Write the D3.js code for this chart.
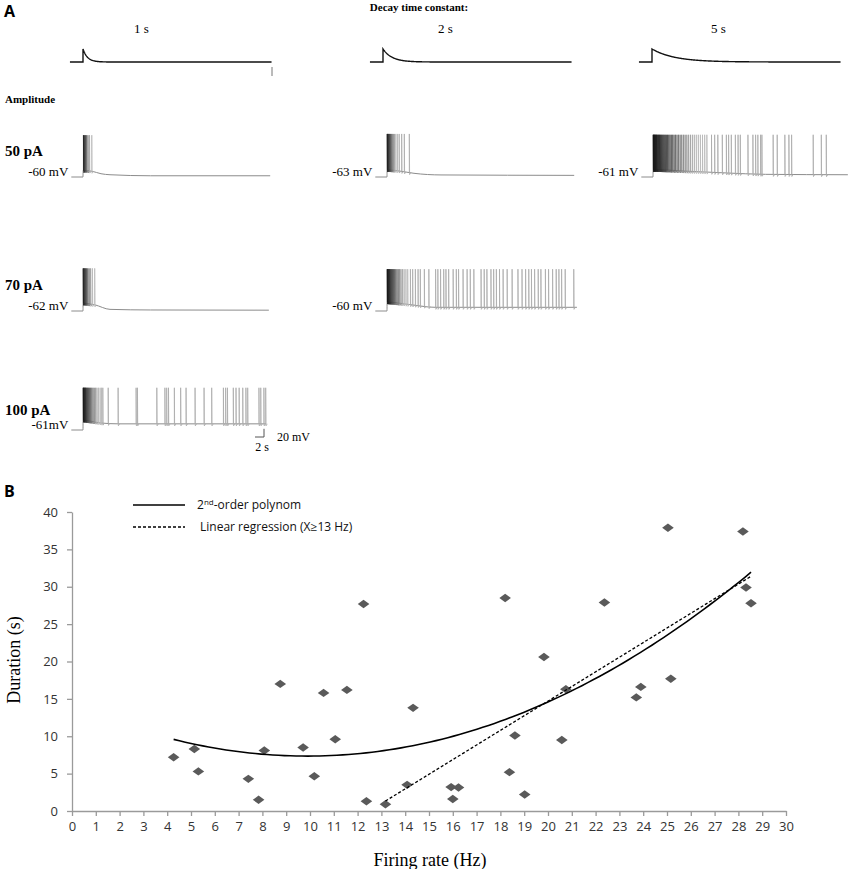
<!DOCTYPE html>
<html>
<head>
<meta charset="utf-8">
<script src="https://cdn.jsdelivr.net/npm/d3@7"></script>
<style>
  body { margin: 0; background: #fff; }
  .serif { font-family: "Liberation Serif", "DejaVu Serif", serif; }
  .sans { font-family: "Open Sans", "Liberation Sans", sans-serif; }
</style>
</head>
<body>
<div id="fig"></div>
<script>
/** ---------- Panel A data ---------- */
var decayTaus = [1, 2, 5];                       // stimulus decay time constant (s)
var tauLabels = ["1 s", "2 s", "5 s"];
var ampLabels = ["50 pA", "70 pA", "100 pA"];
var stimPre = 2.9, stimEnd = 42;                 // s
var preOnset = 2.6;                              // s recorded before stimulus
var spikePeakMV = 42;                            // absolute spike peak (mV)

var restMV    = [-60, -63, -61, -62, -60, -61];
var restText  = ["-60 mV", "-63 mV", "-61 mV", "-62 mV", "-60 mV", "-61mV"];
var recEnd    = [41.6, 41.6, 43.3, 41.3, 42.2, 40.7];   // s after onset
var burstEnd  = [2.0, 2.4, 12.0, 2.6, 4.8, 4.2];        // s

// spike times (s after stimulus onset)
var spikes50pA_1s = [0.1, 0.3, 0.55, 0.8, 1.1, 1.45, 1.95];
var spikes50pA_2s = [0.05, 0.15, 0.28, 0.42, 0.58, 0.75, 0.95, 1.15, 1.4, 1.65, 1.95, 2.3,
                     2.7, 3.26, 3.85, 4.96];
var spikes50pA_5s = [0.05, 0.15, 0.26, 0.38, 0.5, 0.63, 0.77, 0.92, 1.08, 1.25, 1.43, 1.62,
                     1.82, 2.03, 2.25, 2.48, 2.72, 2.97, 3.23, 3.5, 3.78, 4.07, 4.37, 4.68,
                     5.0, 5.33, 5.67, 6.02, 6.38, 6.75, 7.13, 7.52, 7.92, 8.33, 8.75, 9.18,
                     9.62, 10.07, 10.53, 11.0, 11.48, 11.97,
                     13.0, 13.7, 14.4, 15.4, 16.3, 16.8, 17.4, 18.3, 18.9, 19.4, 21.1, 22.2,
                     22.8, 23.3, 23.9, 24.2, 26.7, 27.6, 29.3, 30.2, 30.8, 35.6, 37.4, 38.5];
var spikes70pA_1s = [0.05, 0.2, 0.38, 0.58, 0.8, 1.05, 1.35, 1.7, 2.1, 2.6];
var spikes70pA_2s = [0.05, 0.15, 0.27, 0.4, 0.55, 0.7, 0.87, 1.05, 1.25, 1.47, 1.7, 1.95,
                     2.22, 2.5, 2.8, 3.1, 3.45, 3.8, 4.2, 4.6,
                     5.2, 5.7, 6.3, 6.9, 7.4, 8.3, 9.3, 10.8, 11.3, 11.9, 12.6, 13.1, 13.7,
                     14.7, 15.4, 15.9, 16.9, 17.8, 18.5, 19.3, 20.9, 21.6, 22.2, 23.1, 23.7,
                     24.3, 25.0, 25.8, 26.7, 27.8, 29.1, 30.0, 30.8, 31.5, 32.1, 32.8, 33.6,
                     34.2, 35.2, 35.9, 36.8, 37.6, 38.2, 38.8, 39.6, 41.5];
var spikes100pA_1s = [0.05, 0.15, 0.27, 0.4, 0.55, 0.7, 0.87, 1.05, 1.25, 1.47, 1.7, 1.95,
                      2.22, 2.5, 2.8, 3.1, 3.45, 3.8, 4.1, 4.4,
                      5.6, 7.8, 11.8, 12.1, 16.4, 18.2, 18.6, 19.0, 20.3, 21.7, 22.9, 24.9,
                      26.9, 28.6, 31.2, 31.7, 32.1, 33.4, 34.0, 34.7, 35.5, 36.2, 36.6,
                      39.1, 39.5, 40.2, 40.6];

// depolarisation above rest [s, mV]
var dep50pA_1s  = [[0, 16], [2, 14], [4, 8], [6, 5.5], [15, 3], [41.6, 3]];
var dep50pA_2s  = [[0, 18], [2.5, 15], [6, 9], [12, 5], [41.6, 4]];
var dep50pA_5s  = [[0, 18], [8, 14], [16, 10], [25, 6.5], [43.3, 5.5]];
var dep70pA_1s  = [[0, 19], [2.6, 15], [6, 4], [15, 2.5], [41.3, 2]];
var dep70pA_2s  = [[0, 22], [4.8, 16], [10.7, 9], [42.2, 9]];
var dep100pA_1s = [[0, 24], [4, 17], [8, 15], [40.7, 15]];

/** ---------- Panel B data ---------- */
var firingRate = [4.27, 5.14, 5.31, 7.41, 7.84, 8.08, 8.75, 9.71, 10.18, 10.57, 11.06, 11.55,
                  12.25, 12.37, 13.17, 14.08, 14.33, 15.93, 16.24, 16.0, 18.2, 18.38, 18.61,
                  19.02, 19.83, 20.58, 20.75, 22.37, 23.71, 23.9, 25.04, 25.16, 28.19, 28.32, 28.53];
var duration   = [7.2, 8.3, 5.3, 4.3, 1.5, 8.1, 17.0, 8.5, 4.65, 15.8, 9.6, 16.2,
                  27.7, 1.3, 0.9, 3.5, 13.8, 3.2, 3.15, 1.6, 28.5, 5.2, 10.1,
                  2.2, 20.6, 9.5, 16.3, 27.9, 15.2, 16.6, 37.9, 17.7, 37.4, 29.9, 27.8];
var regressionMinX = 13;
var xTicks = d3.range(0, 31, 1);
var yTicks = [0, 5, 10, 15, 20, 25, 30, 35, 40];

/** ---------- figure ---------- */
var W = 850, H = 869;
var svg = d3.select("#fig").append("svg")
    .attr("width", W).attr("height", H);

var PX_PER_S = 4.5, PX_PER_MV = 0.41;
var colOnset = [83, 387, 653];
var stimOnset = [83, 383, 652];
var rowRest = [177, 311, 430];
var ampLabelY = [156, 290, 415];

svg.append("text").attr("class", "sans").attr("x", 4).attr("y", 17)
    .style("font-weight", "bold").style("font-size", "16px").text("A");
svg.append("text").attr("class", "serif").attr("x", 419).attr("y", 11)
    .attr("text-anchor", "middle").style("font-weight", "bold").style("font-size", "11px")
    .text("Decay time constant:");
svg.append("text").attr("class", "serif").attr("x", 5).attr("y", 103)
    .style("font-weight", "bold").style("font-size", "11px").text("Amplitude");

/** stimulus waveforms */
decayTaus.forEach(function(tau, i) {
  var x = d3.scaleLinear().domain([0, 1]).range([stimOnset[i], stimOnset[i] + PX_PER_S]);
  var y = d3.scaleLinear().domain([0, 1]).range([62, 49]);
  var pts = [[-stimPre, 0], [0, 0], [0.001, 1]];
  d3.range(0.1, stimEnd, 0.1).forEach(function(t) { pts.push([t, Math.exp(-t / tau)]); });
  svg.append("path")
      .attr("d", d3.line().x(function(d) { return x(d[0]); }).y(function(d) { return y(d[1]); })(pts))
      .attr("fill", "none").attr("stroke", "#111").attr("stroke-width", 1.4);
  svg.append("text").attr("class", "serif")
      .attr("x", x(stimEnd / 2) - 36 + i * 4).attr("y", 33)
      .attr("text-anchor", "middle").style("font-size", "13px").text(tauLabels[i]);
});
svg.append("line").attr("x1", 272).attr("x2", 272).attr("y1", 67).attr("y2", 76)
    .attr("stroke", "#777").attr("stroke-width", 1);

/** membrane potential traces */
var traces = [
  {row: 0, col: 0, spikes: spikes50pA_1s, dep: dep50pA_1s},
  {row: 0, col: 1, spikes: spikes50pA_2s, dep: dep50pA_2s},
  {row: 0, col: 2, spikes: spikes50pA_5s, dep: dep50pA_5s},
  {row: 1, col: 0, spikes: spikes70pA_1s, dep: dep70pA_1s},
  {row: 1, col: 1, spikes: spikes70pA_2s, dep: dep70pA_2s},
  {row: 2, col: 0, spikes: spikes100pA_1s, dep: dep100pA_1s}
];

ampLabels.forEach(function(lbl, r) {
  svg.append("text").attr("class", "serif").attr("x", 5).attr("y", ampLabelY[r])
      .style("font-weight", "bold").style("font-size", "15px").text(lbl);
});

traces.forEach(function(tr, i) {
  var rest = restMV[i];
  var onset = colOnset[tr.col];
  var x = d3.scaleLinear().domain([0, 1]).range([onset, onset + PX_PER_S]);
  var y = d3.scaleLinear().domain([rest, rest + 1]).range([rowRest[tr.row], rowRest[tr.row] - PX_PER_MV]);
  var env = d3.scaleLinear().domain(tr.dep.map(function(d) { return d[0]; }))
      .range(tr.dep.map(function(d) { return d[1]; })).clamp(true);
  var g = svg.append("g");

  var pts = [[-preOnset, rest], [0, rest]].concat(
      tr.dep.map(function(d, k) { return [k === 0 ? 0.02 : d[0], rest + d[1]]; }));
  pts[pts.length - 1][0] = recEnd[i];
  g.append("path")
      .attr("d", d3.line().curve(d3.curveMonotoneX)
        .x(function(d) { return x(d[0]); }).y(function(d) { return y(d[1]); })(pts))
      .attr("fill", "none").attr("stroke", "#8c8c8c").attr("stroke-width", 1);

  var shade = d3.scaleLinear().domain([0, burstEnd[i] * 0.8]).range(["#111", "#b8b8b8"]).clamp(true);
  g.selectAll("path.spike")
    .data(tr.spikes)
    .enter()
    .append("path")
      .attr("class", "spike")
      .attr("d", function(t) {
        var b = rest + env(t);
        return "M" + x(t) + "," + y(b) + "L" + x(t) + "," + y(spikePeakMV) +
               "L" + x(t + 0.06) + "," + y(b - 5) + "L" + x(t + 0.35) + "," + y(b);
      })
      .attr("fill", "none")
      .attr("stroke", function(t) { return t <= burstEnd[i] ? shade(t) : "#ababab"; })
      .attr("stroke-width", 0.8);

  svg.append("text").attr("class", "serif")
      .attr("x", x(-preOnset) - 3).attr("y", rowRest[tr.row] - 1)
      .attr("text-anchor", "end").style("font-size", "13px").text(restText[i]);
});

/** scale bar */
var sbX = 264, sbY = 437;
svg.append("path")
    .attr("d", "M" + (sbX - 2 * PX_PER_S) + "," + sbY + "H" + sbX + "V" + (sbY - 20 * PX_PER_MV))
    .attr("fill", "none").attr("stroke", "#555").attr("stroke-width", 1);
svg.append("text").attr("class", "serif").attr("x", 277).attr("y", 441)
    .style("font-size", "12px").text("20 mV");
svg.append("text").attr("class", "serif").attr("x", 262).attr("y", 451)
    .attr("text-anchor", "middle").style("font-size", "12px").text("2 s");

/** ---------- Panel B ---------- */
svg.append("text").attr("class", "sans").attr("x", 4).attr("y", 497)
    .style("font-weight", "bold").style("font-size", "16px").text("B");

var bx = d3.scaleLinear().domain([0, 30]).range([72, 786]);
var by = d3.scaleLinear().domain([0, 40]).range([811, 512]);

var xAxis = svg.append("g").attr("transform", "translate(0,811)")
    .call(d3.axisBottom(bx).tickValues(xTicks).tickSize(5).tickSizeOuter(0).tickPadding(6));
var yAxis = svg.append("g").attr("transform", "translate(72,0)")
    .call(d3.axisLeft(by).tickValues(yTicks).tickSize(5).tickSizeOuter(0).tickPadding(9));
[xAxis, yAxis].forEach(function(a) {
  a.selectAll("path, line").attr("stroke", "#9a9a9a").attr("stroke-width", 1.3);
  a.selectAll("text").attr("class", "sans").style("font-size", "13px").attr("fill", "#333");
});

svg.append("text").attr("class", "serif").attr("x", 430).attr("y", 866)
    .attr("text-anchor", "middle").style("font-size", "18px").text("Firing rate (Hz)");
svg.append("text").attr("class", "serif")
    .attr("transform", "translate(20,660) rotate(-90)")
    .attr("text-anchor", "middle").style("font-size", "18px").text("Duration (s)");

/** least-squares polynomial fit */
function polyFit(xs, ys, deg) {
  var n = deg + 1, A = [], b = [];
  for (var i = 0; i < n; i++) {
    A.push([]);
    for (var j = 0; j < n; j++) A[i].push(d3.sum(xs, function(v) { return Math.pow(v, i + j); }));
    b.push(d3.sum(xs, function(v, k) { return Math.pow(v, i) * ys[k]; }));
  }
  for (var c = 0; c < n; c++) {
    for (var r = c + 1; r < n; r++) {
      var f = A[r][c] / A[c][c];
      for (var k = c; k < n; k++) A[r][k] -= f * A[c][k];
      b[r] -= f * b[c];
    }
  }
  var coef = [];
  for (var r2 = n - 1; r2 >= 0; r2--) {
    var s = b[r2];
    for (var k2 = r2 + 1; k2 < n; k2++) s -= A[r2][k2] * coef[k2];
    coef[r2] = s / A[r2][r2];
  }
  return coef;
}
function evalPoly(c, v) { return c.reduce(function(s, a, i) { return s + a * Math.pow(v, i); }, 0); }

var quad = polyFit(firingRate, duration, 2);
var hiX = [], hiY = [];
firingRate.forEach(function(v, i) { if (v >= regressionMinX) { hiX.push(v); hiY.push(duration[i]); } });
var lin = polyFit(hiX, hiY, 1);

var fitLine = d3.line().x(function(d) { return bx(d[0]); }).y(function(d) { return by(d[1]); });
var quadPts = d3.range(100).map(function(k) {
  var v = d3.min(firingRate) + k * (d3.max(firingRate) - d3.min(firingRate)) / 99;
  return [v, evalPoly(quad, v)];
});
var linPts = [d3.min(hiX), d3.max(hiX)].map(function(v) { return [v, evalPoly(lin, v)]; });

/** markers */
svg.selectAll("path.pt")
  .data(firingRate)
  .enter()
  .append("path")
    .attr("class", "pt")
    .attr("transform", function(d, i) { return "translate(" + bx(d) + "," + by(duration[i]) + ")"; })
    .attr("d", "M0,-4.2L5.8,0L0,4.2L-5.8,0Z")
    .attr("fill", "#5a5a5a");

svg.append("path").attr("d", fitLine(quadPts))
    .attr("fill", "none").attr("stroke", "#000").attr("stroke-width", 1.6);
svg.append("path").attr("d", fitLine(linPts))
    .attr("fill", "none").attr("stroke", "#000").attr("stroke-width", 1.3)
    .attr("stroke-dasharray", "3,2");

/** legend */
svg.append("line").attr("x1", 133).attr("x2", 185).attr("y1", 505).attr("y2", 505)
    .attr("stroke", "#000").attr("stroke-width", 1.6);
svg.append("line").attr("x1", 133).attr("x2", 185).attr("y1", 527).attr("y2", 527)
    .attr("stroke", "#000").attr("stroke-width", 1.3).attr("stroke-dasharray", "3,2");
var leg1 = svg.append("text").attr("class", "sans").attr("x", 197).attr("y", 509)
    .style("font-size", "12px").attr("fill", "#111");
leg1.append("tspan").text("2");
leg1.append("tspan").attr("dy", -4).style("font-size", "8px").text("nd");
leg1.append("tspan").attr("dy", 4).text("-order polynom");
svg.append("text").attr("class", "sans").attr("x", 200).attr("y", 531)
    .style("font-size", "12px").attr("fill", "#111").text("Linear regression (X\u226513 Hz)");
</script>
</body>
</html>
